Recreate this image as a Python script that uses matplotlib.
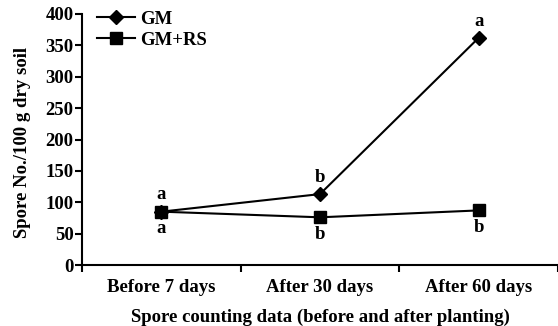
import numpy as np
import matplotlib.pyplot as plt

plt.rcParams['font.family'] = ['Liberation Serif', 'DejaVu Serif']
plt.rcParams['font.weight'] = 'bold'
plt.rcParams['axes.labelweight'] = 'bold'
plt.rcParams['font.size'] = 13.5

categories = ['Before 7 days', 'After 30 days', 'After 60 days']
gm = [85, 113, 362]
gm_rs = [85, 76, 87]
gm_letters = ['a', 'b', 'a']
gm_rs_letters = ['a', 'b', 'b']

x = np.arange(len(categories)) + 0.5

fig = plt.figure(figsize=(5.58, 3.26), dpi=100)
ax = fig.add_axes([82/558, 1-265/326, 476/558, 251/326])

line1, = ax.plot(x, gm, color='black', marker='D', markersize=7.5, lw=1.5, label='GM')
line2, = ax.plot(x, gm_rs, color='black', marker='s', markersize=8, lw=1.5, label='GM+RS')

# significance letters
for xi, yv, t in zip(x, gm, gm_letters):
    ax.annotate(t, (xi, yv), xytext=(0, 6), textcoords='offset points',
                ha='center', va='bottom')
for xi, yv, t in zip(x, gm_rs, gm_rs_letters):
    ax.annotate(t, (xi, yv), xytext=(0, -6), textcoords='offset points',
                ha='center', va='top')

ax.set_xlim(0, 476/159.7)
ax.set_ylim(0, 400)
ax.set_yticks(np.arange(0, 401, 50))
ax.set_xticks([0, 1, 2, 3])
ax.set_xticklabels([])
ax.set_xticks(x, minor=True)
ax.set_xticklabels(categories, minor=True)
ax.tick_params(axis='x', which='minor', length=0, pad=10)
ax.tick_params(axis='x', which='major', length=5, width=1.5)
ax.tick_params(axis='y', length=5, width=1.5, pad=1)

for s in ['top', 'right']:
    ax.spines[s].set_visible(False)
for s in ['left', 'bottom']:
    ax.spines[s].set_linewidth(1.5)

ax.set_ylabel('Spore No./100 g dry soil')
ax.yaxis.set_label_coords(-0.108, 0.49)
ax.set_xlabel('Spore counting data (before and after planting)', labelpad=9)

ax.legend(handles=[line1, line2], loc='upper left', bbox_to_anchor=(0.012, 1.05),
          frameon=False, borderpad=0, handlelength=2.0, handletextpad=0.3,
          labelspacing=0.2)

fig.savefig('out.png', dpi=100)
